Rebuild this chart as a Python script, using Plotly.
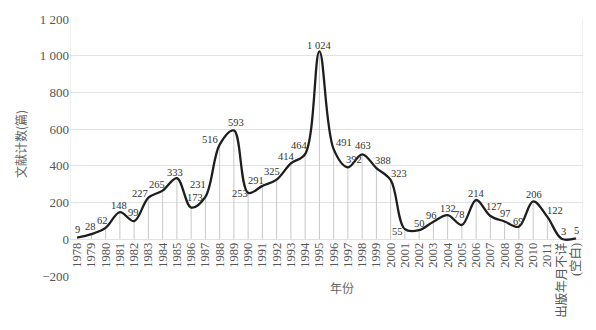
import plotly.graph_objects as go

categories = [str(y) for y in range(1978, 2012)] + ["出版年月不详", "(空白)"]
counts = [9, 28, 62, 148, 99, 227, 265, 333, 173, 231, 516, 593, 253, 291, 325,
          414, 464, 1024, 491, 392, 463, 388, 323, 55, 50, 96, 132, 78, 214,
          127, 97, 69, 206, 122, 3, 5]
y_tick_vals = [-200, 0, 200, 400, 600, 800, 1000, 1200]
y_tick_text = ["−200", "0", "200", "400", "600", "800", "1 000", "1 200"]

# label offsets in pixels (dx right, dy down) relative to each point
label_dx = [0, -1, -3, -1, -1, -8, -6, -2, 4, -7, -10, 2, -8, -6, -5, -4, -6, 0,
            10, 6, 1, 7, 8, -7, 0, -2, 0, -2, 0, 4, 1, 0, 1, 8, 2, 1]
label_dy = [-8, -8, -7, -7, -9, -4, -6, -6, -10, -12, -5, -8, 1, -5, -8, -7, -9, -6,
            -7, -8, -9, -8, -6, 2, -7, -6, -7, -10, -7, -9, -8, -5, -7, -6, -7, -8]

SERIF = "Liberation Serif, Times New Roman, serif"


def fmt(v):
    return f"{v:,}".replace(",", " ")


idx = list(range(len(categories)))

fig = go.Figure()

# drop lines from each point to zero
dx, dy = [], []
for i, v in zip(idx, counts):
    dx += [i, i, None]
    dy += [0, v, None]
fig.add_trace(go.Scatter(x=dx, y=dy, mode="lines",
                         line=dict(color="#c8c8c8", width=1),
                         hoverinfo="skip", showlegend=False))

fig.add_trace(go.Scatter(x=idx, y=counts, mode="lines",
                         line=dict(color="#1e1e1e", width=2.3, shape="spline", smoothing=1.0),
                         showlegend=False))

for i, v, ddx, ddy in zip(idx, counts, label_dx, label_dy):
    fig.add_annotation(x=i, y=v, text=fmt(v), showarrow=False,
                       xshift=ddx, yshift=-ddy,
                       font=dict(family=SERIF, size=10.5, color="#333333"))

# frame lines
for xv in [-0.5, len(categories) - 0.5]:
    fig.add_shape(type="line", x0=xv, x1=xv, y0=0, y1=1200, xref="x", yref="y",
                  line=dict(color="#e3e3e3", width=1), layer="below")

fig.add_annotation(text="文献计数(篇)", xref="paper", yref="paper",
                   x=(20 - 70) / 513, y=(276 - 142) / 261, textangle=-90,
                   showarrow=False, xanchor="center", yanchor="middle",
                   font=dict(family="Noto Sans CJK SC", size=12, color="#666666"))
fig.add_annotation(text="年份", xref="paper", yref="paper",
                   x=(342 - 70) / 513, y=(276 - 288) / 261,
                   showarrow=False, xanchor="center", yanchor="middle",
                   font=dict(family="Noto Sans CJK SC", size=12, color="#666666"))

fig.update_layout(
    width=596, height=330,
    margin=dict(l=70, r=13, t=15, b=54),
    paper_bgcolor="white", plot_bgcolor="white",
    xaxis=dict(range=[-0.5, len(categories) - 0.5],
               tickmode="array", tickvals=idx, ticktext=categories,
               anchor="free", position=200 / 1400,
               tickangle=-90, showgrid=False, showline=False, zeroline=False,
               ticks="", tickfont=dict(family=SERIF + ", Noto Sans CJK SC",
                                       size=12.5, color="#555555")),
    yaxis=dict(range=[-200, 1200], tickvals=y_tick_vals, ticktext=y_tick_text,
               showgrid=True, gridcolor="#e3e3e3", gridwidth=1, zeroline=False,
               showline=False, ticks="",
               tickfont=dict(family=SERIF, size=13, color="#555555")),
)

fig.write_html("out.html")
